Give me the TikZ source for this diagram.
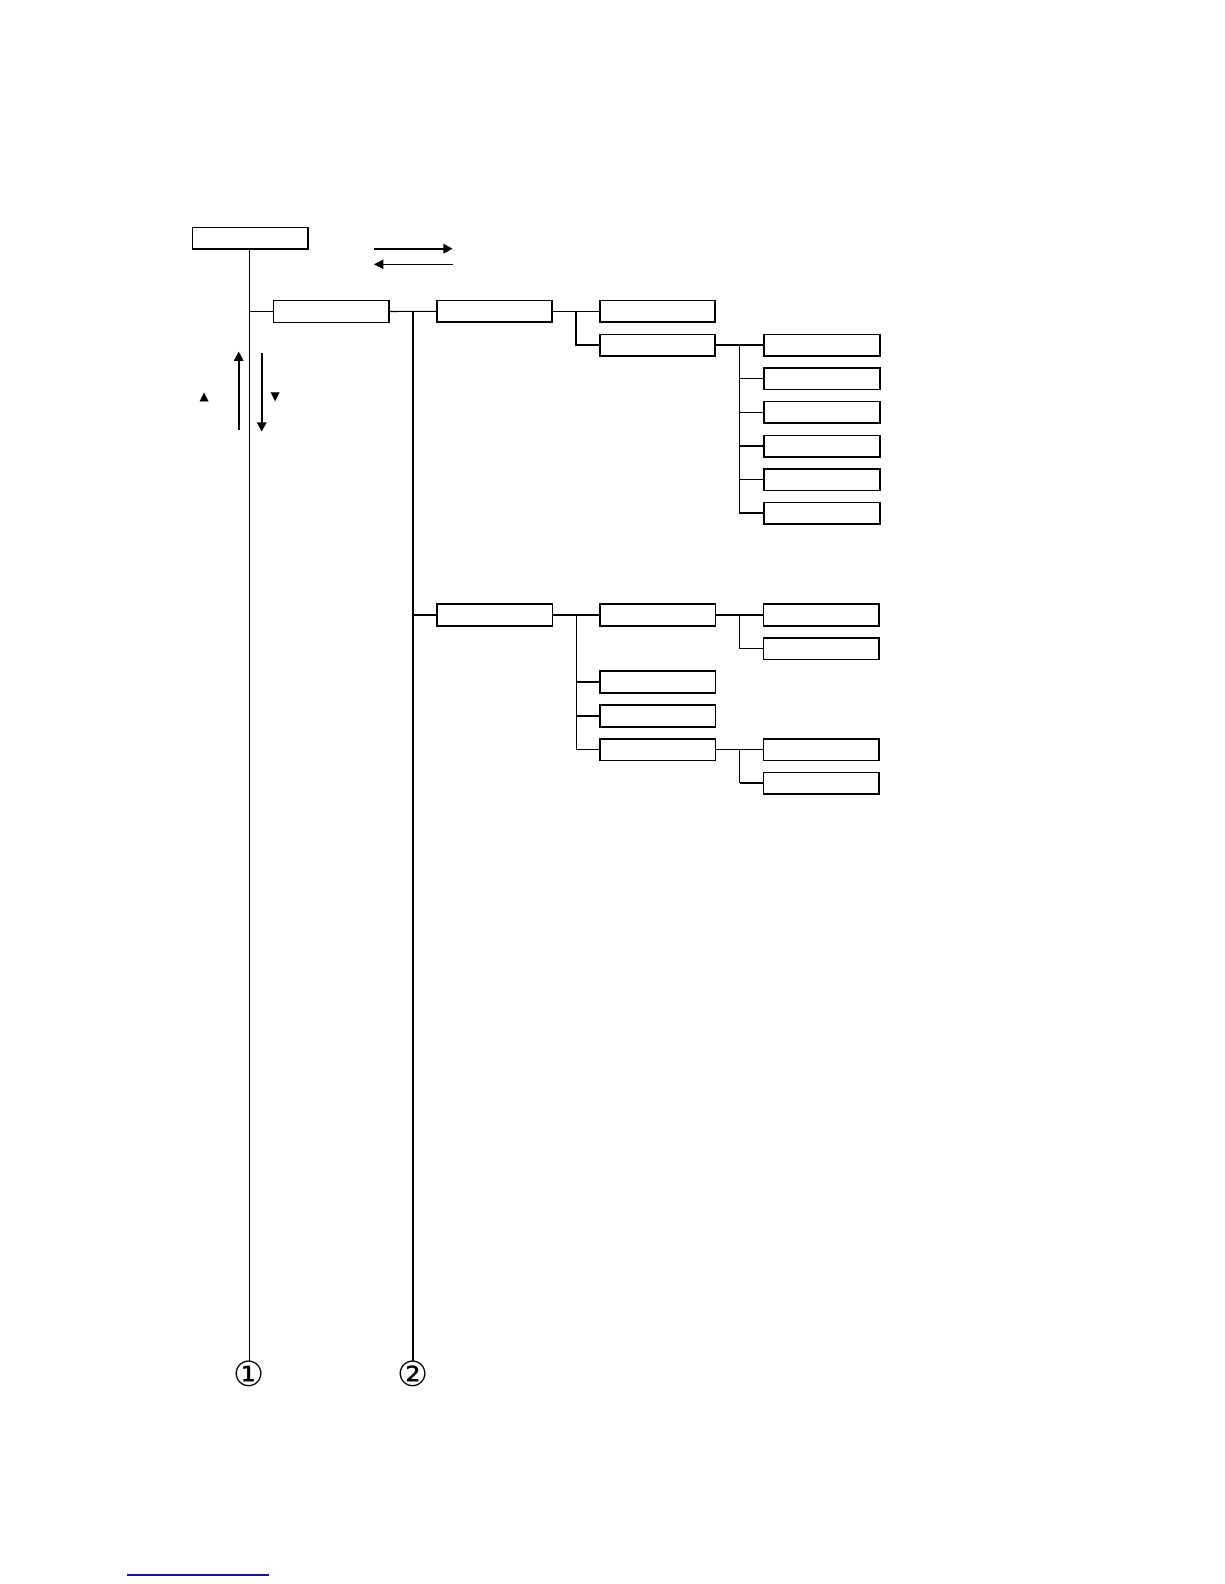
\documentclass[tikz,border=0pt]{standalone}
\usepackage{fontspec}
\newfontfamily\dejavu{DejaVu Sans}
\usetikzlibrary{arrows.meta,calc}
\begin{document}
\begin{tikzpicture}[x=0.75pt,y=-0.75pt,
  box/.style={draw, line width=1.2pt, minimum width=115.5*0.75pt, minimum height=21.7*0.75pt, inner sep=0pt},
  thin/.style={line width=0.8pt},
  thick/.style={line width=1.5pt},
  tipA/.style={-{Triangle[length=7pt,width=7pt]}}]
\useasboundingbox[fill=white] (0,0) rectangle (1224,1584);
% boxes
\node[box] (top) at (250.3,238.2) {};
\node[box] (A) at (331.3,311.5) {};
\node[box] (B) at (494.5,311.3) {};
\node[box] (C1) at (657.5,311.3) {};
\node[box] (C2) at (657.5,345.2) {};
\foreach \i/\y in {1/345.2,2/378.6,3/412.2,4/446.2,5/479.6,6/513.2}
  \node[box] (D\i) at (822,\y) {};
\node[box] (E) at (494.8,615) {};
\node[box] (F1) at (657.8,615) {};
\node[box] (F2) at (657.8,682) {};
\node[box] (F3) at (657.8,716) {};
\node[box] (F4) at (657.8,749.6) {};
\node[box] (G1) at (821.2,615) {};
\node[box] (G2) at (821.2,648.6) {};
\node[box] (G3) at (821.2,749.6) {};
\node[box] (G4) at (821.2,783.2) {};
% circled labels
\node[font=\dejavu\fontsize{26pt}{26pt}\selectfont, inner sep=0pt] (n1) at (249.3,1374) {①};
\node[font=\dejavu\fontsize{26pt}{26pt}\selectfont, inner sep=0pt] (n2) at (413.3,1374) {②};
% main vertical lines
\coordinate (j1) at (249.3,249.3);
\coordinate (j2) at (412.7,311.3);
\draw[thin] (j1) -- (n1.north -| j1);
\draw[thin] (j1 |- A.west) -- (A.west);
\draw[thin] (A.east) -- (B.west);
\draw[thick] (j2) -- (n2.north -| j2);
\draw[thick] (j2 |- E.west) -- (E.west);
% B -> C
\coordinate (jb) at ($(B.east)!0.5!(C1.west)$);
\draw[thin] (B.east) -- (C1.west);
\draw[thick] (jb) |- (C2.west);
% C2 -> D
\coordinate (jc) at ($(C2.east)!0.5!(D1.west)$);
\draw[thick] (C2.east) -- (D1.west);
\draw[thin] (jc) |- (D6.west);
\foreach \i in {2,3,5} \draw[thin] (jc |- D\i.west) -- (D\i.west);
\draw[thick] (jc |- D4.west) -- (D4.west);
\draw[thick] (jc |- D6.west) -- (D6.west);
% E -> F
\coordinate (je) at ($(E.east)!0.5!(F1.west)$);
\draw[thick] (E.east) -- (F1.west);
\draw[thin] (je) |- (F4.west);
\draw[thin] (je |- F2.west) -- (F2.west);
\draw[thick] (je |- F3.west) -- (F3.west);
% F1 -> G
\coordinate (jf) at ($(F1.east)!0.5!(G1.west)$);
\draw[thick] (F1.east) -- (G1.west);
\draw[thin] (jf) |- (G2.west);
% F4 -> G
\coordinate (jg) at ($(F4.east)!0.5!(G3.west)$);
\draw[thin] (F4.east) -- (G3.west);
\draw[thin] (jg) -- (jg |- G4.west);
\draw[thick] (jg |- G4.west) -- (G4.west);
% legend arrows
\coordinate (ra1) at (374,248.7); \coordinate (ra2) at (452.7,248.7);
\coordinate (la1) at (452.7,264.3); \coordinate (la2) at (374,264.3);
\draw[thick,tipA] (ra1) -- (ra2);
\draw[thin,tipA] (la1) -- (la2);
\coordinate (ua1) at (238.7,430); \coordinate (ua2) at (238.7,351.5);
\coordinate (da1) at (261.7,352.7); \coordinate (da2) at (261.7,431.7);
\draw[thick,tipA] (ua1) -- (ua2);
\draw[thick,tipA] (da1) -- (da2);
\node[font=\dejavu\fontsize{9pt}{9pt}\selectfont, inner sep=0pt] (tu) at (204.3,397.5) {▲};
\node[font=\dejavu\fontsize{9pt}{9pt}\selectfont, inner sep=0pt] (td) at (275.3,397) {▼};
% blue underline
\coordinate (bl1) at (126.7,1575); \coordinate (bl2) at (269,1575);
\draw[line width=0.9pt, color={rgb,255:red,20;green,20;blue,150}] (bl1) -- (bl2);
\end{tikzpicture}
\end{document}
